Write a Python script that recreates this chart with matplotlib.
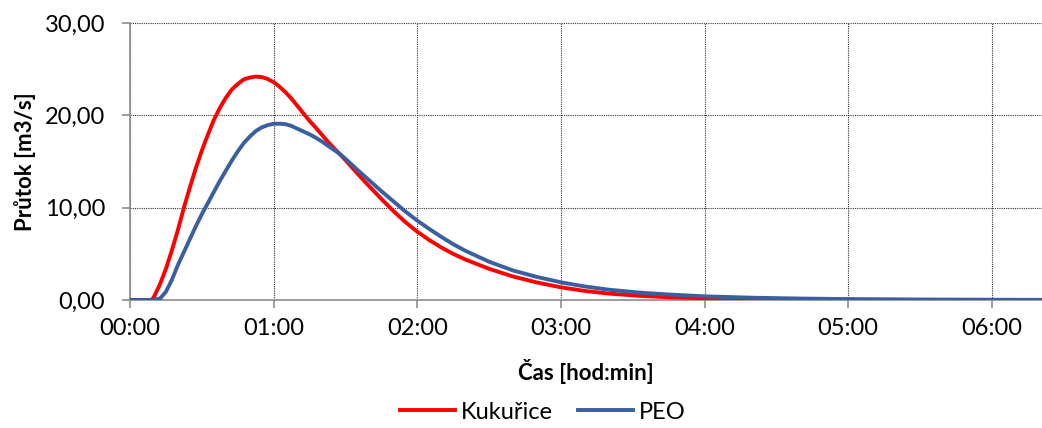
import matplotlib.pyplot as plt
from matplotlib.ticker import FuncFormatter, MultipleLocator

# time in minutes from start
minutes = [0, 5, 9, 10, 12.5, 15, 17.5, 20, 22.5, 25, 27.5, 30, 32.5, 35, 37.5, 40, 42.5,
           45, 47.5, 50, 52.5, 55, 57.5, 60, 62.5, 65, 67.5, 70, 72.5, 75, 77.5, 80, 82.5,
           85, 87.5, 90, 95, 100, 105, 110, 115, 120, 125, 130, 135, 140, 150, 160, 170,
           180, 190, 200, 213, 225, 240, 260, 280, 300, 330, 360, 381]

kukurice = [0, 0, 0, 0.35, 1.7, 3.4, 5.4, 7.6, 10.0, 12.2, 14.3, 16.2, 17.9, 19.5, 20.8,
            21.9, 22.8, 23.4, 23.9, 24.1, 24.2, 24.15, 23.95, 23.6, 23.1, 22.5, 21.8, 21.0,
            20.2, 19.4, 18.7, 17.95, 17.2, 16.5, 15.85, 15.15, 13.7, 12.3, 10.95, 9.65,
            8.45, 7.4, 6.5, 5.7, 5.0, 4.4, 3.38, 2.55, 1.9, 1.38, 0.98, 0.7, 0.45, 0.3,
            0.2, 0.11, 0.06, 0.035, 0.02, 0.01, 0]

peo = [0, 0, 0, 0, 0.15, 0.9, 2.2, 3.8, 5.2, 6.6, 8.0, 9.3, 10.5, 11.7, 12.9, 14.0, 15.1,
       16.1, 17.0, 17.7, 18.3, 18.7, 18.95, 19.1, 19.1, 19.05, 18.85, 18.55, 18.25, 17.95,
       17.6, 17.2, 16.75, 16.3, 15.85, 15.3, 14.1, 12.95, 11.8, 10.7, 9.6, 8.6, 7.7, 6.85,
       6.05, 5.35, 4.15, 3.2, 2.5, 1.92, 1.47, 1.12, 0.8, 0.6, 0.4, 0.25, 0.16, 0.1, 0.05,
       0.03, 0.02]

plt.rcParams['font.family'] = ['Lato', 'DejaVu Sans']

fig = plt.figure(figsize=(10.42, 4.28), dpi=100)
ax = fig.add_axes([0.1248, 0.299, 0.8752, 0.647])

ax.plot(minutes, kukurice, color='#FF0000', lw=2.8, label='Kukuřice', zorder=3,
        solid_joinstyle='round')
ax.plot(minutes, peo, color='#3A5FA0', lw=2.8, label='PEO', zorder=3,
        solid_joinstyle='round')

ax.set_xlim(0, 381)
ax.set_ylim(0, 30)
ax.xaxis.set_major_locator(MultipleLocator(60))
ax.yaxis.set_major_locator(MultipleLocator(10))
ax.xaxis.set_major_formatter(FuncFormatter(lambda v, p: f"{int(v) // 60:02d}:{int(v) % 60:02d}"))
ax.yaxis.set_major_formatter(FuncFormatter(lambda v, p: f"{v:.2f}".replace('.', ',')))

ax.grid(True, color='#333333', linestyle=(0, (1, 1)), linewidth=0.8, zorder=0)
for s in ['top', 'right']:
    ax.spines[s].set_visible(False)
for s in ['left', 'bottom']:
    ax.spines[s].set_color('#8c8c8c')
    ax.spines[s].set_linewidth(1.2)
ax.tick_params(axis='both', colors='#8c8c8c', length=6, width=1.2, labelsize=17,
               labelcolor='black')
ax.tick_params(axis='y', pad=12)
ax.tick_params(axis='x', pad=7)

ax.set_ylabel('Průtok [m3/s]', fontsize=16, fontweight='bold', labelpad=6)
ax.set_xlabel('Čas [hod:min]', fontsize=16, fontweight='bold', labelpad=14)

fig.legend(loc='center', bbox_to_anchor=(0.521, 0.037), ncol=2, frameon=False,
           fontsize=17, handlelength=2.3, columnspacing=1.1, handletextpad=0.25)

fig.savefig('out.png', dpi=100)
